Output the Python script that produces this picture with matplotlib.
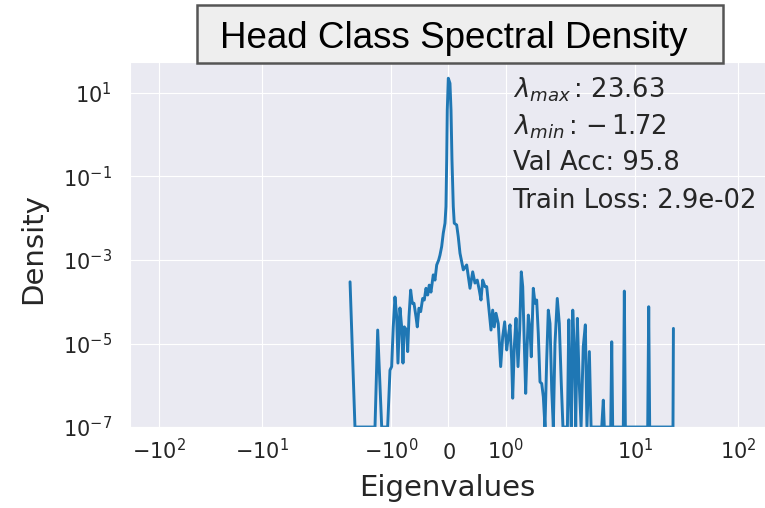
import matplotlib
matplotlib.use("Agg")
import matplotlib.pyplot as plt
import seaborn as sns
from matplotlib.patches import Rectangle
from matplotlib.ticker import NullLocator

sns.set_style("darkgrid")

# densidade espectral (autovalores x densidade)
eigenvalues = [
    -1.72, -1.634, -1.284, -1.237, -1.167, -1.063, -1.022, -0.993, -0.965, -0.935,
    -0.905, -0.883, -0.848, -0.818, -0.795, -0.772, -0.730, -0.713, -0.690, -0.661,
    -0.633, -0.603, -0.568, -0.545, -0.516, -0.486, -0.451, -0.423, -0.393, -0.363,
    -0.336, -0.306, -0.266, -0.236, -0.206, -0.171, -0.149, -0.119, -0.091, -0.061,
    -0.044, -0.031, -0.021, -0.003, 0.026, 0.044, 0.061, 0.084, 0.101, 0.143,
    0.171, 0.201, 0.259, 0.318, 0.376, 0.423, 0.463, 0.503, 0.538, 0.568,
    0.598, 0.638, 0.668, 0.713, 0.743, 0.772, 0.800, 0.830, 0.870, 0.912,
    0.947, 0.982, 1.017, 1.045, 1.075, 1.104, 1.122, 1.150, 1.180, 1.215,
    1.244, 1.272, 1.297, 1.319, 1.349, 1.372, 1.395, 1.424, 1.447, 1.482,
    1.512, 1.541, 1.569, 1.599, 1.629, 1.657, 1.686, 1.716, 1.744, 1.774,
    1.804, 1.832, 1.861, 1.901, 1.936, 1.971, 2.00, 2.21, 2.28, 2.34,
    2.41, 2.49, 2.58, 2.66, 2.76, 2.88, 3.00, 3.15, 3.30, 3.42,
    3.61, 3.75, 4.76, 4.93, 5.04, 5.82, 5.95, 6.08, 7.71, 7.89,
    8.07, 13.3, 13.6, 13.9, 23.4, 23.63,
]
density = [
    3.0e-4, 1e-7, 1e-7, 2.1e-5, 1e-7, 1e-7, 2.3e-6, 2.8e-6, 2.5e-5, 1.3e-4,
    4.4e-5, 3.4e-6, 7.1e-5, 2.5e-5, 3.4e-6, 2.5e-5, 2.1e-5, 6.4e-6, 4.4e-5, 1.9e-4,
    9.2e-5, 9.2e-5, 4.4e-5, 2.5e-5, 7.0e-5, 5.8e-5, 1.2e-4, 1.1e-4, 2.1e-4, 1.45e-4,
    2.5e-4, 1.7e-4, 4.4e-4, 3.3e-4, 7.6e-4, 1.0e-3, 1.3e-3, 2.1e-3, 4.4e-3, 7.6e-3,
    1.9e-2, 0.25, 3.9, 22.5, 17.0, 3.9, 0.25, 1.9e-2, 7.6e-3, 6.9e-3,
    3.6e-3, 1.45e-3, 5.8e-4, 7.6e-4, 2.1e-4, 5.2e-4, 2.8e-4, 3.3e-4, 1.9e-4, 1.1e-4,
    3.3e-4, 2.3e-4, 2.3e-4, 5.3e-5, 2.1e-5, 6.3e-5, 2.5e-5, 5.3e-5, 3.0e-5, 2.8e-6,
    1.45e-5, 3.3e-5, 7.0e-6, 1.45e-5, 2.8e-5, 4.0e-6, 4.9e-7, 8.4e-6, 4.0e-5, 2.8e-6,
    2.1e-5, 5.2e-4, 2.3e-4, 1.75e-5, 6.4e-7, 7.0e-6, 4.8e-5, 2.1e-5, 4.8e-6, 2.1e-4,
    9.2e-5, 1.1e-4, 1.75e-5, 1.2e-6, 1.1e-6, 5.3e-7, 1e-7, 4.0e-6, 6.3e-5, 3.0e-5,
    7.7e-7, 1e-7, 1.0e-5, 1.2e-4, 3.0e-5, 1.1e-6, 1e-7, 1e-7, 3.7e-5, 1.1e-6,
    1e-7, 6.3e-5, 7.0e-6, 1e-7, 4.0e-5, 1.1e-6, 1e-7, 8.4e-6, 2.8e-5, 1e-7,
    6.4e-6, 1e-7, 1e-7, 4.4e-7, 1e-7, 1e-7, 1.1e-5, 1e-7, 1e-7, 1.8e-4,
    1e-7, 1e-7, 7.6e-5, 1e-7, 1e-7, 2.3e-5,
]

x_ticks = [-100, -10, -1, 0, 1, 10, 100]
y_ticks = [1e-7, 1e-5, 1e-3, 1e-1, 1e1]

lambda_max = 23.63
lambda_min = -1.72
val_acc = 95.8
train_loss = 2.9e-02

fig = plt.figure(figsize=(7.65, 5.08), dpi=100)
ax = fig.add_axes([0.170, 0.1594, 0.830, 0.7185])

ax.plot(eigenvalues, density, color="#1f77b4", lw=2.1)

ax.set_xscale("symlog", linthresh=2)
ax.set_yscale("log")
ax.set_xlim(-191, 183)
ax.set_ylim(1e-7, 55)
ax.set_xticks(x_ticks)
ax.set_yticks(y_ticks)
ax.xaxis.set_minor_locator(NullLocator())
ax.yaxis.set_minor_locator(NullLocator())
ax.tick_params(axis="both", length=0, labelsize=15, labelcolor=".15")
ax.tick_params(axis="x", pad=23)
ax.tick_params(axis="y", pad=13)
for lbl in ax.get_xticklabels():
    lbl.set_verticalalignment("baseline")

ax.set_xlabel("Eigenvalues", fontsize=21, color=".15")
ax.set_ylabel("Density", fontsize=21, color=".15")
ax.xaxis.set_label_coords(0.5, -0.13)
ax.yaxis.set_label_coords(-0.13, 0.49)

# caixa do título
fig.add_artist(Rectangle((0.2575, 0.876), 0.6876, 0.114, transform=fig.transFigure,
                         facecolor="#eeeeee", edgecolor="#555555", lw=1.8, zorder=5))
fig.text(0.5935, 0.9055, "Head Class Spectral Density", ha="center", va="baseline",
         fontsize=26.5, family="Liberation Sans", color="black", zorder=6)

# estatísticas
info = [
    r"$\lambda_{max}\,$: %.2f" % lambda_max,
    r"$\lambda_{min}\,$: $-\,$%.2f" % abs(lambda_min),
    "Val Acc: %.1f" % val_acc,
    "Train Loss: %.1e" % train_loss,
]
baselines = [0.809, 0.736, 0.665, 0.591]
for txt, yb in zip(info, baselines):
    fig.text(0.6706, yb, txt, fontsize=18.6, color=".15", va="baseline", ha="left")

plt.savefig("out.png", dpi=100)
